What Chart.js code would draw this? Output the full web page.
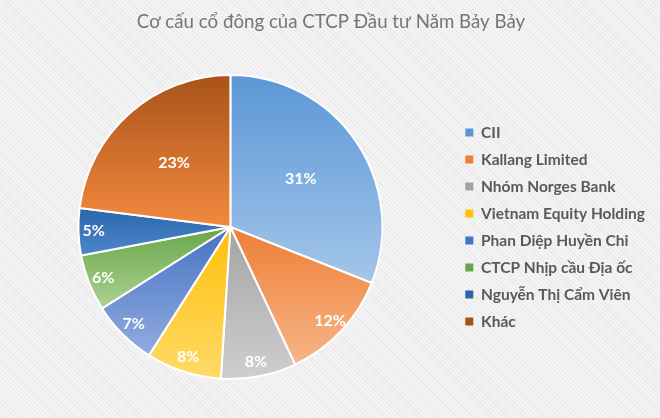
<!DOCTYPE html>
<html>
<head>
<meta charset="utf-8">
<script src="https://cdn.jsdelivr.net/npm/chart.js@4/dist/chart.umd.min.js"></script>
<style>
    html, body {
        margin: 0;
        padding: 0;
    }
    body {
        width: 660px;
        height: 418px;
        background-color: #f1f1f1;
        background-image: repeating-linear-gradient(45deg, #f4f4f4 0px, #f4f4f4 2px, #e9e9ec 2px, #e9e9ec 3px);
    }
    #wrapper {
        position: relative;
        width: 660px;
        height: 418px;
    }
</style>
</head>
<body>
<div id="wrapper"><canvas id="chart"></canvas></div>
<script>
const chartTitle = 'Cơ cấu cổ đông của CTCP Đầu tư Năm Bảy Bảy';
const holders = ['CII', 'Kallang Limited', 'Nhóm Norges Bank', 'Vietnam Equity Holding', 'Phan Diệp Huyền Chi', 'CTCP Nhịp cầu Địa ốc', 'Nguyễn Thị Cẩm Viên', 'Khác'];
const shares = [31, 12, 8, 8, 7, 6, 5, 23];
// top colour / bottom colour of each slice gradient
const darkColors = ['#5b97d6', '#ee7f36', '#a3a3a3', '#ffbf0a', '#4572c4', '#68a64a', '#2a66ad', '#a8521a'];
const lightColors = ['#a4c6ea', '#f6b688', '#cfcfcf', '#ffda66', '#93acdf', '#acd292', '#4c88c8', '#f38a3e'];

const total = shares.reduce((a, b) => a + b, 0);

// vertical extent of a slice, worked out from its angles
function sliceGradient(context) {
    const chart = context.chart;
    const area = chart.chartArea;
    if (!area) return darkColors[context.dataIndex];
    const i = context.dataIndex;
    const cx = (area.left + area.right) / 2;
    const cy = (area.top + area.bottom) / 2;
    const r = Math.min(area.right - area.left, area.bottom - area.top) / 2;
    let before = 0;
    for (let k = 0; k < i; k++) before += shares[k];
    const a0 = -Math.PI / 2 + before / total * Math.PI * 2;
    const a1 = a0 + shares[i] / total * Math.PI * 2;
    let ys = [cy, cy + r * Math.sin(a0), cy + r * Math.sin(a1)];
    if (a0 < Math.PI / 2 && a1 > Math.PI / 2) ys.push(cy + r);
    if (a0 < 3 * Math.PI / 2 && a1 > 3 * Math.PI / 2) ys.push(cy - r);
    if (a0 < -Math.PI / 2 + 0.0001) ys.push(cy - r);
    const y0 = Math.min(...ys);
    const y1 = Math.max(...ys);
    const g = chart.ctx.createLinearGradient(0, y0, 0, y1);
    g.addColorStop(0, darkColors[i]);
    g.addColorStop(1, lightColors[i]);
    return g;
}

const percentLabels = {
    id: 'percentLabels',
    afterDatasetsDraw(chart) {
        const ctx = chart.ctx;
        const meta = chart.getDatasetMeta(0);
        ctx.save();
        ctx.font = 'bold 16px Lato';
        ctx.fillStyle = '#ffffff';
        ctx.textAlign = 'center';
        ctx.textBaseline = 'middle';
        meta.data.forEach((arc, i) => {
            const p = arc.getProps(['x', 'y', 'startAngle', 'endAngle', 'outerRadius']);
            const mid = (p.startAngle + p.endAngle) / 2;
            const k = shares[i] >= 20 ? 0.56 : 0.9;
            const x = p.x + Math.cos(mid) * p.outerRadius * k;
            const y = p.y + Math.sin(mid) * p.outerRadius * k;
            ctx.fillText(shares[i] + '%', x, y);
        });
        ctx.restore();
    }
};

// stretch the legend box to the pie's height so align:center centres it
const legendToPie = {
    id: 'legendToPie',
    afterLayout(chart) {
        if (!chart.legend) return;
        chart.legend.top = chart.chartArea.top;
        chart.legend.bottom = chart.chartArea.bottom;
        chart.legend.height = chart.chartArea.bottom - chart.chartArea.top;
    }
};

document.addEventListener('DOMContentLoaded', () => {
    const ctx = document.getElementById('chart').getContext('2d');
    new Chart(ctx, {
        type: 'pie',
        data: {
            labels: holders,
            datasets: [{
                data: shares,
                backgroundColor: sliceGradient,
                borderColor: '#ffffff',
                borderWidth: 2,
                hoverOffset: 0
            }]
        },
        options: {
            responsive: true,
            maintainAspectRatio: false,
            animation: false,
            layout: {
                padding: { left: 7, right: 5, top: 0, bottom: 38 }
            },
            plugins: {
                title: {
                    display: true,
                    text: chartTitle,
                    color: '#757575',
                    font: { family: 'Lato', size: 18.7, weight: 'normal' },
                    padding: { top: 11, bottom: 40.6 }
                },
                legend: {
                    position: 'right',
                    align: 'center',
                    labels: {
                        boxWidth: 8,
                        boxHeight: 8,
                        padding: 11.5,
                        color: '#595959',
                        font: { family: 'Lato', size: 15.5, weight: 'bold' },
                        generateLabels(chart) {
                            return holders.map((name, i) => ({
                                text: name,
                                fillStyle: darkColors[i],
                                strokeStyle: darkColors[i],
                                lineWidth: 0,
                                fontColor: '#595959',
                                index: i
                            }));
                        }
                    }
                },
                tooltip: { enabled: false }
            }
        },
        plugins: [percentLabels, legendToPie]
    });
});
</script>
</body>
</html>
